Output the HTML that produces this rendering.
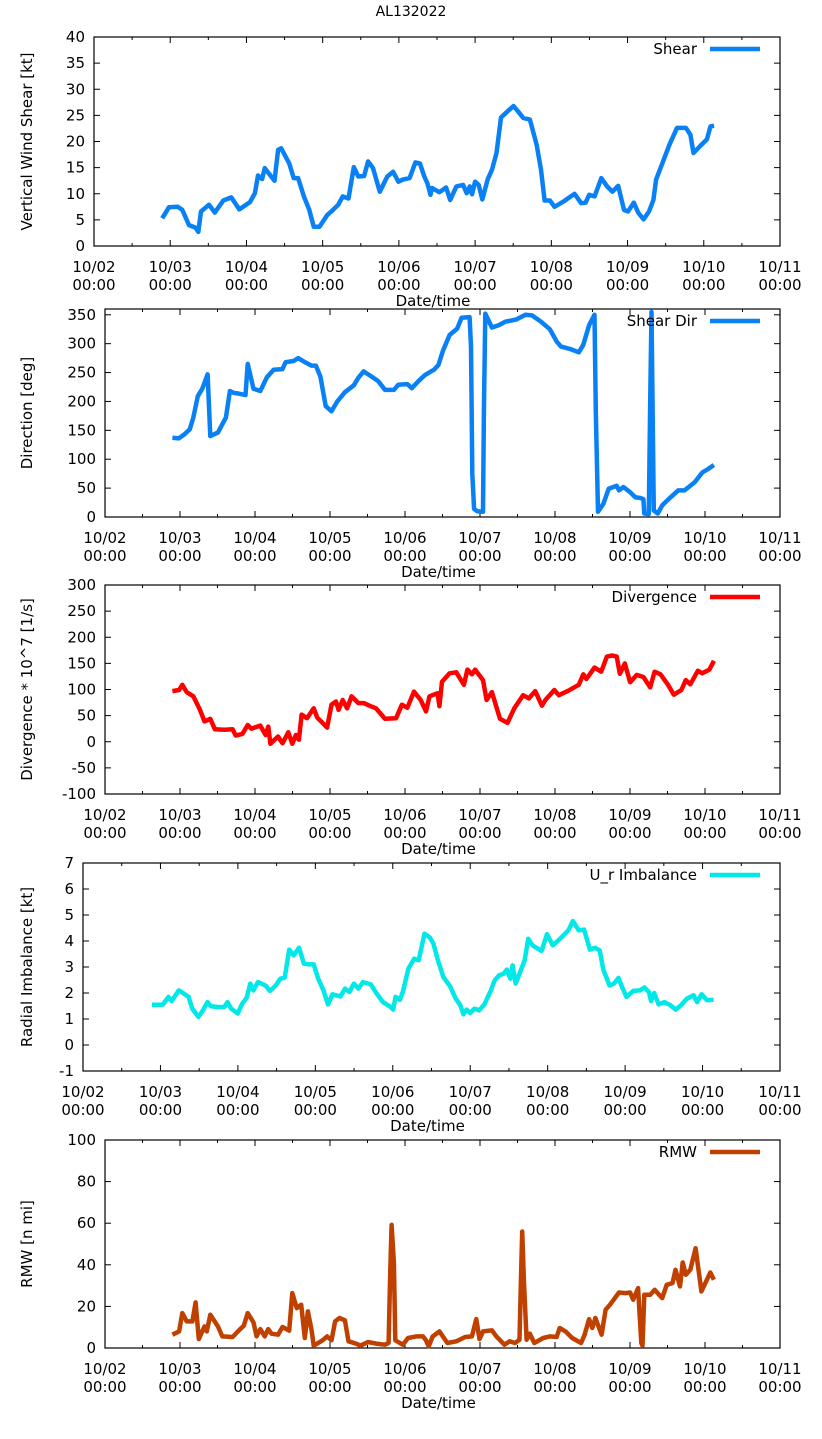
<!DOCTYPE html>
<html><head><meta charset="utf-8">
<style>
html,body{margin:0;padding:0;background:#fff;}
svg{display:block;font-family:"DejaVu Sans","Liberation Sans",sans-serif;}
</style></head>
<body>
<svg id="chart" width="822" height="1439" viewBox="0 0 822 1439" xmlns="http://www.w3.org/2000/svg">
<rect x="0" y="0" width="822" height="1439" fill="#fff"/>
<text x="411" y="16" font-size="14" text-anchor="middle" fill="#000">AL132022</text>
</svg>
<script>
const xTickLabels = ["10/02","10/03","10/04","10/05","10/06","10/07","10/08","10/09","10/10","10/11"];

const shearT = [0.895,0.982,1.099,1.158,1.246,1.333,1.368,1.404,1.509,1.585,1.696,1.801,1.906,2.047,2.111,2.152,2.205,2.240,2.368,2.415,2.456,2.561,2.620,2.678,2.754,2.825,2.883,2.959,3.058,3.135,3.205,3.263,3.339,3.409,3.468,3.544,3.596,3.661,3.749,3.848,3.924,3.994,4.053,4.140,4.216,4.275,4.333,4.374,4.415,4.433,4.532,4.620,4.673,4.754,4.842,4.889,4.930,4.959,5.000,5.047,5.094,5.164,5.222,5.281,5.339,5.427,5.503,5.561,5.632,5.719,5.807,5.865,5.912,5.982,6.041,6.158,6.304,6.392,6.450,6.497,6.567,6.655,6.731,6.801,6.877,6.953,7.006,7.082,7.140,7.211,7.281,7.339,7.374,7.456,7.550,7.649,7.766,7.825,7.865,7.971,8.041,8.088,8.135];
const shearV = [5.3,7.4,7.5,6.9,4.0,3.5,2.7,6.6,7.9,6.4,8.7,9.3,7.0,8.4,10.1,13.5,12.8,14.9,12.5,18.4,18.7,15.8,13.0,13.0,9.5,6.9,3.7,3.7,5.9,6.9,7.9,9.5,9.1,15.1,13.3,13.4,16.2,14.9,10.4,13.3,14.2,12.3,12.7,13.0,16.0,15.8,13.3,12.0,9.8,11.1,10.3,11.2,8.8,11.4,11.7,10.1,11.4,9.9,12.3,11.7,8.9,12.7,14.6,17.8,24.6,25.8,26.8,25.8,24.5,24.2,19.4,14.6,8.7,8.7,7.5,8.5,10.0,8.2,8.3,9.8,9.5,13.0,11.4,10.4,11.5,6.9,6.6,8.3,6.4,5.1,6.6,8.8,12.7,15.8,19.4,22.6,22.6,21.3,17.8,19.4,20.4,22.9,23.0];

const dirT = [0.899,0.982,1.059,1.131,1.178,1.238,1.297,1.368,1.404,1.505,1.612,1.665,1.713,1.802,1.873,1.903,1.980,2.070,2.159,2.248,2.367,2.408,2.515,2.575,2.652,2.753,2.812,2.872,2.943,3.020,3.097,3.198,3.317,3.377,3.448,3.555,3.644,3.733,3.852,3.911,4.030,4.090,4.179,4.268,4.387,4.446,4.506,4.595,4.696,4.755,4.862,4.880,4.898,4.922,4.963,5.040,5.052,5.070,5.159,5.248,5.337,5.486,5.605,5.694,5.813,5.931,6.021,6.080,6.199,6.318,6.378,6.455,6.526,6.544,6.574,6.645,6.716,6.823,6.853,6.912,7.001,7.073,7.132,7.179,7.191,7.251,7.269,7.287,7.305,7.317,7.370,7.429,7.507,7.643,7.726,7.863,7.964,8.041,8.118];
const dirV = [137,136,143,152,172,209,222,247,140,146,172,218,215,213,211,265,222,218,242,255,256,268,270,275,269,262,262,243,192,183,200,216,228,241,252,243,235,220,220,229,230,223,235,246,255,263,288,315,326,345,346,295,74,14,10,9,183,352,328,332,338,342,350,349,338,325,304,295,291,285,298,332,350,183,9,23,49,54,46,52,43,34,33,31,6,5,200,355,143,11,6,20,30,46,46,60,77,83,90];

const divT = [0.899,0.988,1.030,1.089,1.178,1.267,1.327,1.404,1.464,1.594,1.701,1.743,1.832,1.903,1.951,2.070,2.141,2.177,2.206,2.307,2.367,2.444,2.497,2.545,2.586,2.622,2.693,2.783,2.830,2.901,2.961,3.020,3.080,3.115,3.169,3.228,3.288,3.377,3.454,3.525,3.614,3.733,3.882,3.959,4.030,4.120,4.209,4.280,4.327,4.434,4.458,4.494,4.595,4.684,4.785,4.832,4.892,4.934,5.040,5.088,5.159,5.267,5.367,5.457,5.575,5.652,5.736,5.825,5.872,5.991,6.051,6.169,6.318,6.377,6.419,6.526,6.616,6.692,6.764,6.823,6.865,6.930,7.001,7.090,7.179,7.269,7.328,7.406,7.507,7.584,7.685,7.744,7.804,7.905,7.964,8.059,8.118];
const divV = [97,99,109,95,87,61,39,44,24,23,24,12,15,32,25,31,13,29,-4,10,-3,18,-4,13,4,52,45,64,46,36,27,71,77,61,80,64,87,74,74,69,64,44,45,71,65,96,80,58,87,93,68,115,131,133,109,138,129,138,118,80,95,44,36,64,89,83,97,69,80,99,89,97,109,129,120,142,134,163,165,163,130,150,114,128,124,104,134,129,109,90,99,118,110,136,131,138,155];

const urT = [0.890,1.029,1.104,1.144,1.237,1.306,1.364,1.410,1.490,1.548,1.606,1.652,1.739,1.825,1.866,1.912,1.998,2.056,2.114,2.160,2.200,2.258,2.356,2.414,2.489,2.547,2.605,2.662,2.720,2.789,2.852,2.921,2.979,3.037,3.106,3.164,3.222,3.325,3.383,3.440,3.498,3.556,3.614,3.718,3.787,3.873,3.960,4.006,4.035,4.093,4.133,4.202,4.277,4.335,4.410,4.479,4.525,4.583,4.652,4.739,4.814,4.872,4.912,4.953,4.999,5.057,5.114,5.183,5.258,5.316,5.374,5.432,5.472,5.518,5.547,5.587,5.645,5.703,5.749,5.806,5.922,5.991,6.066,6.182,6.268,6.326,6.401,6.470,6.545,6.614,6.672,6.718,6.799,6.857,6.915,6.961,7.018,7.105,7.191,7.249,7.307,7.335,7.376,7.433,7.508,7.583,7.653,7.722,7.797,7.884,7.930,7.988,8.057,8.143];
const urV = [1.55,1.55,1.85,1.69,2.10,1.97,1.85,1.40,1.08,1.33,1.65,1.49,1.46,1.46,1.65,1.40,1.21,1.59,1.82,2.36,2.10,2.42,2.29,2.08,2.29,2.55,2.59,3.67,3.45,3.74,3.13,3.10,3.10,2.55,2.10,1.56,1.95,1.87,2.17,2.04,2.36,2.17,2.42,2.33,2.00,1.65,1.49,1.36,1.85,1.74,2.08,2.94,3.32,3.26,4.28,4.13,3.90,3.26,2.62,2.26,1.78,1.53,1.18,1.36,1.23,1.40,1.33,1.56,2.04,2.49,2.68,2.74,2.90,2.55,3.06,2.36,2.81,3.26,4.09,3.83,3.62,4.26,3.83,4.15,4.41,4.77,4.41,4.44,3.67,3.74,3.64,2.90,2.29,2.36,2.58,2.23,1.85,2.08,2.10,2.21,2.04,1.69,2.00,1.56,1.65,1.53,1.36,1.53,1.78,1.91,1.65,1.95,1.72,1.74];

const rmwT = [0.899,0.988,1.030,1.089,1.166,1.208,1.250,1.327,1.357,1.404,1.505,1.564,1.701,1.802,1.850,1.903,1.980,2.022,2.070,2.129,2.176,2.218,2.307,2.367,2.456,2.497,2.557,2.616,2.664,2.705,2.753,2.783,2.901,2.961,3.020,3.068,3.127,3.198,3.246,3.347,3.406,3.507,3.614,3.733,3.781,3.804,3.822,3.852,3.870,3.971,4.042,4.149,4.238,4.280,4.316,4.369,4.458,4.565,4.684,4.803,4.892,4.951,4.993,5.040,5.159,5.218,5.325,5.396,5.468,5.527,5.545,5.563,5.587,5.622,5.664,5.724,5.843,5.932,6.021,6.063,6.140,6.229,6.348,6.395,6.455,6.497,6.538,6.621,6.675,6.734,6.853,6.942,7.001,7.043,7.108,7.150,7.167,7.191,7.269,7.328,7.429,7.489,7.566,7.607,7.667,7.702,7.744,7.804,7.875,7.952,8.071,8.118];
const rmwV = [6.4,8.0,16.8,12.8,12.8,21.9,4.3,10.4,8.0,16.0,10.4,5.6,5.3,9.1,10.7,16.8,12.3,5.6,9.1,5.6,9.1,6.9,6.4,10.1,8.3,26.4,19.2,20.8,4.8,17.6,8.8,1.1,3.7,5.6,3.7,12.8,14.4,13.3,3.2,2.1,1.1,2.9,2.1,1.6,2.4,37.6,59.2,40.8,3.7,1.6,4.8,5.6,5.6,3.7,0.8,5.6,8.0,2.4,3.2,5.3,5.6,13.9,4.3,8.0,8.5,5.6,1.6,3.2,2.4,4.0,32.0,56.0,31.2,4.0,6.9,2.4,4.8,5.6,5.3,9.6,8.0,4.8,2.4,6.4,13.9,9.6,14.4,6.4,18.4,20.8,26.7,26.4,26.7,23.2,28.8,2.4,1.1,25.6,25.6,28.0,24.0,30.4,31.2,37.6,29.6,41.1,35.2,37.6,48.0,27.2,36.3,32.8];

const shearTicks = [0,5,10,15,20,25,30,35,40];
const dirTicks = [0,50,100,150,200,250,300,350];
const divTicks = [-100,-50,0,50,100,150,200,250,300];
const urTicks = [-1,0,1,2,3,4,5,6,7];
const rmwTicks = [0,20,40,60,80,100];

const NS = "http://www.w3.org/2000/svg";
const svg = document.getElementById("chart");
function mk(tag, attrs, parent){
  const e = document.createElementNS(NS, tag);
  for (const k in attrs) e.setAttribute(k, attrs[k]);
  (parent||svg).appendChild(e);
  return e;
}

const panels = [
  {key:"shear", L:94, R:780, T:37, B:246, ymin:0, ymax:40, ticks:shearTicks, t:shearT, v:shearV, color:"#0a80f5", ylabel:"Vertical Wind Shear [kt]", legend:"Shear"},
  {key:"shear-dir", L:105, R:780, T:309, B:517, ymin:0, ymax:360, ticks:dirTicks, t:dirT, v:dirV, color:"#0a80f5", ylabel:"Direction [deg]", legend:"Shear Dir"},
  {key:"divergence", L:105, R:780, T:585, B:794, ymin:-100, ymax:300, ticks:divTicks, t:divT, v:divV, color:"#ff0000", ylabel:"Divergence * 10^7 [1/s]", legend:"Divergence"},
  {key:"radial-imbalance", L:83, R:780, T:863, B:1071, ymin:-1, ymax:7, ticks:urTicks, t:urT, v:urV, color:"#00e8e8", ylabel:"Radial Imbalance [kt]", legend:"U_r Imbalance"},
  {key:"rmw", L:105, R:780, T:1140, B:1348, ymin:0, ymax:100, ticks:rmwTicks, t:rmwT, v:rmwV, color:"#c04000", ylabel:"RMW [n mi]", legend:"RMW"}
];

panels.forEach(p => {
  const g = mk("g", {});
  
  
  const xs = d => p.L + (p.R - p.L) * d / 9;
  const ys = v => p.B - (p.B - p.T) * (v - p.ymin) / (p.ymax - p.ymin);
  const fr = mk("rect", {x:p.L, y:p.T, width:p.R-p.L, height:p.B-p.T, fill:"none", stroke:"#000", "stroke-width":1.2}, g);
  
  
  for (let i = 0; i <= 18; i++) {
    const x = xs(i/2), len = (i%2===0) ? 6 : 3;
    mk("line", {x1:x, y1:p.B, x2:x, y2:p.B-len, stroke:"#000", "stroke-width":1}, g);
    mk("line", {x1:x, y1:p.T, x2:x, y2:p.T+len, stroke:"#000", "stroke-width":1}, g);
  }
  xTickLabels.forEach((lab, i) => {
    const x = xs(i);
    const t1 = mk("text", {x:x, y:p.B+26, "font-size":15, "text-anchor":"middle", fill:"#000"}, g);
    t1.textContent = lab;
    
    
    const t2 = mk("text", {x:x, y:p.B+44, "font-size":15, "text-anchor":"middle", fill:"#000"}, g);
    t2.textContent = "00:00";
    
    
  });
  const xt = mk("text", {x:(p.L+p.R)/2 - 4, y:p.B+60, "font-size":15, "text-anchor":"middle", fill:"#000"}, g);
  xt.textContent = "Date/time";
  
  
  p.ticks.forEach(v => {
    const y = ys(v);
    mk("line", {x1:p.L, y1:y, x2:p.L+6, y2:y, stroke:"#000", "stroke-width":1}, g);
    mk("line", {x1:p.R, y1:y, x2:p.R-6, y2:y, stroke:"#000", "stroke-width":1}, g);
    const t = mk("text", {x:p.L-9, y:y+5, "font-size":15, "text-anchor":"end", fill:"#000"}, g);
    t.textContent = String(v);
    
    
  });
  const cy = (p.T+p.B)/2;
  const yl = mk("text", {x:0, y:0, "font-size":15, "text-anchor":"middle", fill:"#000", transform:`translate(32,${cy}) rotate(-90)`}, g);
  yl.textContent = p.ylabel;
  
  
  let d = "";
  p.t.forEach((tt, i) => { d += (i ? "L" : "M") + xs(tt).toFixed(1) + "," + ys(p.v[i]).toFixed(1); });
  const path = mk("path", {d:d, fill:"none", stroke:p.color, "stroke-width":4.5, "stroke-linejoin":"round", "stroke-linecap":"butt"}, g);
  
  
  const ly = p.T + 12;
  const lt = mk("text", {x:697, y:ly+5, "font-size":15, "text-anchor":"end", fill:"#000"}, g);
  lt.textContent = p.legend;
  
  
  const ll = mk("line", {x1:710, y1:ly, x2:760, y2:ly, stroke:p.color, "stroke-width":4.5}, g);
  
  
});
</script>
</body></html>
